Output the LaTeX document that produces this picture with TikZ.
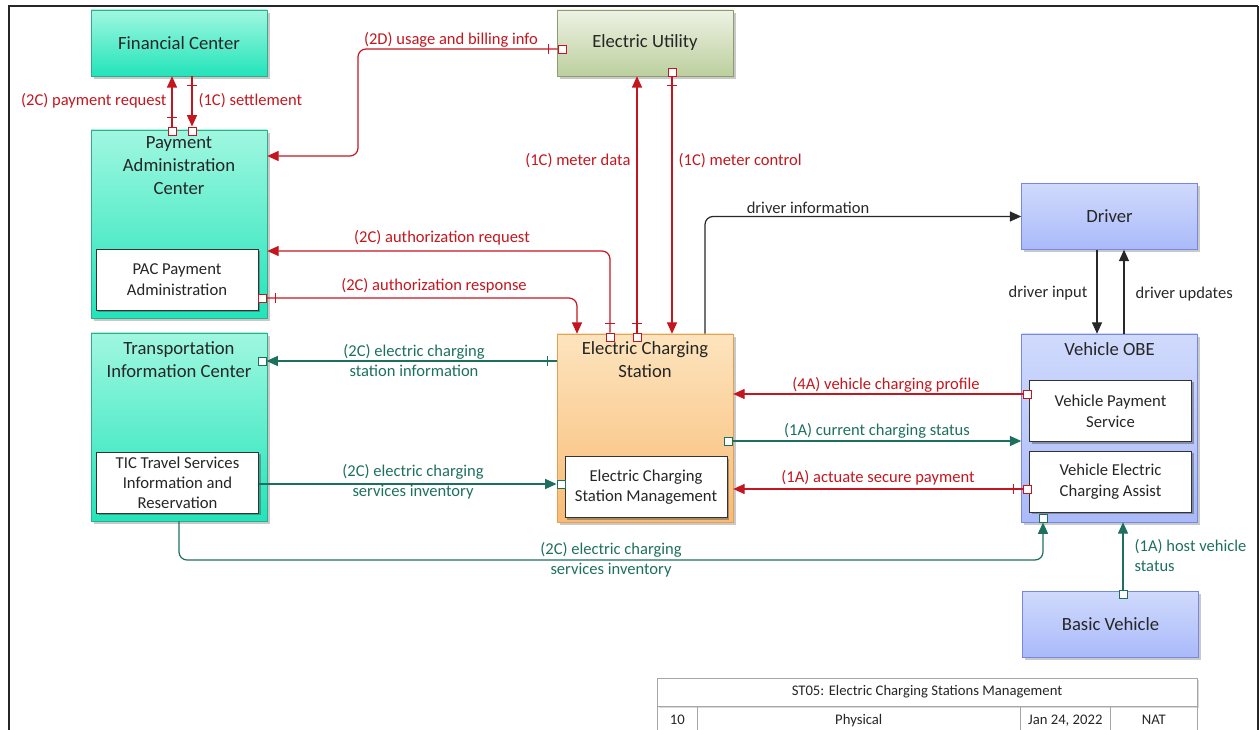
\documentclass[tikz,border=0pt]{standalone}
\usepackage{fontspec}
\setmainfont{Carlito}
\usetikzlibrary{arrows.meta,shadows,decorations.markings}
\definecolor{flowred}{RGB}{196,22,30}
\definecolor{flowteal}{RGB}{30,112,94}
\definecolor{flowblk}{RGB}{40,40,40}
\definecolor{tealtop}{RGB}{160,247,224}
\definecolor{tealbot}{RGB}{34,228,186}
\definecolor{tealedge}{RGB}{50,170,140}
\definecolor{utiltop}{RGB}{238,242,228}
\definecolor{utilbot}{RGB}{188,207,158}
\definecolor{utiledge}{RGB}{140,158,112}
\definecolor{ecstop}{RGB}{253,228,190}
\definecolor{ecsbot}{RGB}{248,188,118}
\definecolor{ecsedge}{RGB}{228,160,82}
\definecolor{vehtop}{RGB}{208,218,252}
\definecolor{vehbot}{RGB}{170,186,250}
\definecolor{vehedge}{RGB}{120,135,225}
\tikzset{
    every node/.style={inner sep=1pt, text=black!85}
}
\tikzset{
    sysbox/.style={draw, minimum width=132pt, minimum height=49.5pt, align=center,
    	font=\fontsize{14}{17.25}\selectfont,
    	drop shadow={shadow xshift=2pt, shadow yshift=-2pt, opacity=.3, fill=black!70}},
    ctrbox/.style={sysbox, top color=tealtop, bottom color=tealbot, draw=tealedge},
    utilbox/.style={sysbox, top color=utiltop, bottom color=utilbot, draw=utiledge},
    ecsbox/.style={sysbox, top color=ecstop, bottom color=ecsbot, draw=ecsedge},
    vehbox/.style={sysbox, top color=vehtop, bottom color=vehbot, draw=vehedge},
    tall/.style={minimum height=141pt},
    ttl/.style={align=center, font=\fontsize{14}{17.25}\selectfont},
    innerbox/.style={draw=black!80, fill=white, minimum width=121.5pt, minimum height=45.75pt,
    	align=center, font=\fontsize{12.5}{15.5}\selectfont,
    	drop shadow={shadow xshift=1.5pt, shadow yshift=-1.5pt, opacity=.45, fill=black!70}}
}
\tikzset{
    port/.style={draw, fill=white, minimum size=6pt, inner sep=0pt, line width=.7pt},
    rport/.style={port, draw=flowred},
    tport/.style={port, draw=flowteal},
    flow/.style={line width=.9pt, rounded corners=6pt, -{Triangle[length=8.5pt,width=7.5pt]}},
    redflow/.style={flow, color=flowred},
    tealflow/.style={flow, color=flowteal},
    blkflow/.style={flow, color=flowblk},
    tickst/.style={postaction={decorate, decoration={markings,
    	mark=at position 7pt with {\draw[-] (0pt,-3.5pt) -- (0pt,3.5pt);}}}},
    lbl/.style={align=center, font=\fontsize{12.4}{15}\selectfont},
    lblred/.style={lbl, text=flowred},
    lblteal/.style={lbl, text=flowteal},
    lblblk/.style={lbl, text=flowblk},
    cell/.style={draw=black!35, minimum height=21pt, font=\fontsize{11}{13}\selectfont, inner sep=0pt}
}

\begin{document}
\begin{tikzpicture}[x=0.75pt,y=-0.75pt]
	\useasboundingbox (0,0) rectangle (1259,730);
	\draw[line width=2pt, black!85] (9,730) -- (9,6) -- (1258,6);
	\draw[line width=1pt, black!85] (1258,6) -- (1258,730);

	\node (fc) [ctrbox] at (179,43) {Financial Center};
	\node (eu) [utilbox] at (645,43) {Electric Utility};
	\node (pac) [ctrbox, tall] at (179,224) {};
	\node (pac-t) [ttl] at (179,166) {Payment\\Administration\\Center};
	\node (pac-pa) [innerbox] at (177,279.5) {PAC Payment\\Administration};
	\node (tic) [ctrbox, tall] at (179,427) {};
	\node (tic-t) [ttl] at (179,360) {Transportation\\Information Center};
	\node (tic-ts) [innerbox, font=\fontsize{12.5}{15}\selectfont] at (177.5,482.5) {TIC Travel Services\\Information and\\Reservation};
	\node (ecs) [ecsbox, tall] at (645,428) {};
	\node (ecs-t) [ttl] at (645,360) {Electric Charging\\Station};
	\node (ecs-m) [innerbox] at (646,487) {Electric Charging\\Station Management};
	\node (drv) [vehbox] at (1109.5,216.5) {Driver};
	\node (obe) [vehbox, tall] at (1109.5,428) {};
	\node (obe-t) [ttl] at (1109.5,349) {Vehicle OBE};
	\node (vps) [innerbox] at (1110.5,411) {Vehicle Payment\\Service};
	\node (veca) [innerbox] at (1110.5,481.5) {Vehicle Electric\\Charging Assist};
	\node (bv) [vehbox] at (1110.5,624) {Basic Vehicle};

	\node (p-pr) [rport] at (172,131) {};
	\node (p-st) [rport] at (192,131) {};
	\node (p-ub) [rport] at (562,49) {};
	\node (p-mc) [rport] at (672,72) {};
	\node (p-ar) [rport] at (610,337) {};
	\node (p-md) [rport] at (637,337) {};
	\node (p-as) [rport] at (262,298) {};
	\node (p-si) [tport] at (262,361) {};
	\node (p-sv) [tport] at (561,484) {};
	\node (p-cs) [tport] at (728,441) {};
	\node (p-vp) [rport] at (1027,394) {};
	\node (p-ap) [rport] at (1027,489) {};
	\node (p-bi) [tport] at (1043,518) {};
	\node (p-hv) [tport] at (1123,594) {};

	\coordinate (b-ub) at (358,156);
	\coordinate (b-ar) at (610,251);
	\coordinate (b-as) at (577,298);
	\coordinate (b-bi) at (179,560);
	\coordinate (b-di) at (705,216);
	\coordinate (b-dn) at (1097,300);
	\coordinate (b-du) at (1124,300);

	\draw[redflow, tickst] (p-pr.north) -- (fc.south -| p-pr);
	\draw[redflow, tickst] (fc.south -| p-st) -- (p-st.north);
	\draw[redflow, tickst] (p-ub.west) -| (b-ub) -- (pac.east |- b-ub);
	\draw[redflow, tickst] (p-md.north) -- (eu.south -| p-md);
	\draw[redflow, tickst] (p-mc.south) -- (ecs.north -| p-mc);
	\draw[redflow, tickst] (p-ar.north) |- (pac.east |- b-ar);
	\draw[redflow, tickst] (p-as.east) -| (ecs.north -| b-as);
	\draw[tealflow, tickst] (ecs.west |- p-si) -- (p-si.east);
	\draw[tealflow] (tic-ts.east |- p-sv) -- (p-sv.west);
	\draw[tealflow] (tic.south -| b-bi) -- (b-bi) -| (p-bi.south);
	\draw[tealflow] (p-cs.east) -- (obe.west |- p-cs);
	\draw[tealflow] (p-hv.north) -- (obe.south -| p-hv);
	\draw[redflow] (p-vp.west) -- (ecs.east |- p-vp);
	\draw[redflow, tickst] (p-ap.west) -- (ecs.east |- p-ap);
	\draw[blkflow] (ecs.north -| b-di) |- (drv.west);
	\draw[blkflow] (drv.south -| b-dn) -- (obe.north -| b-dn);
	\draw[blkflow] (obe.north -| b-du) -- (drv.south -| b-du);

	\node (l-pr) [lblred, anchor=east] at (168,101) {(2C) payment request};
	\node (l-st) [lblred, anchor=west] at (197,101) {(1C) settlement};
	\node (l-ub) [lblred] at (451,40) {(2D) usage and billing info};
	\node (l-md) [lblred, anchor=east] at (632,161) {(1C) meter data};
	\node (l-mc) [lblred, anchor=west] at (677,161) {(1C) meter control};
	\node (l-ar) [lblred] at (442,238) {(2C) authorization request};
	\node (l-as) [lblred] at (434,286) {(2C) authorization response};
	\node (l-si) [lblteal] at (414,361) {(2C) electric charging\\station information};
	\node (l-sv) [lblteal] at (413,482) {(2C) electric charging\\services inventory};
	\node (l-bi) [lblteal] at (611,560) {(2C) electric charging\\services inventory};
	\node (l-cs) [lblteal] at (877,431) {(1A) current charging status};
	\node (l-vp) [lblred] at (886,385) {(4A) vehicle charging profile};
	\node (l-ap) [lblred] at (878,478) {(1A) actuate secure payment};
	\node (l-hv) [lblteal, anchor=west, align=left] at (1133,556) {(1A) host vehicle\\status};
	\node (l-di) [lblblk] at (808,208) {driver information};
	\node (l-dn) [lblblk, anchor=east] at (1089,293) {driver input};
	\node (l-du) [lblblk, anchor=west] at (1134,294) {driver updates};

	\node (t-name) [cell, minimum width=405pt, fill=white,
		drop shadow={shadow xshift=1.5pt, shadow yshift=-1.5pt, opacity=.25, fill=black!60}] at (927,692) {ST05: Electric Charging Stations Management};
	\node (t-num) [cell, minimum width=30pt, anchor=north west] at (657,706) {10};
	\node (t-view) [cell, minimum width=242.25pt, anchor=north west] at (697,706) {Physical};
	\node (t-date) [cell, minimum width=67.5pt, anchor=north west] at (1020,706) {Jan 24, 2022};
	\node (t-own) [cell, minimum width=65.25pt, anchor=north west] at (1110,706) {NAT};
\end{tikzpicture}
\end{document}
